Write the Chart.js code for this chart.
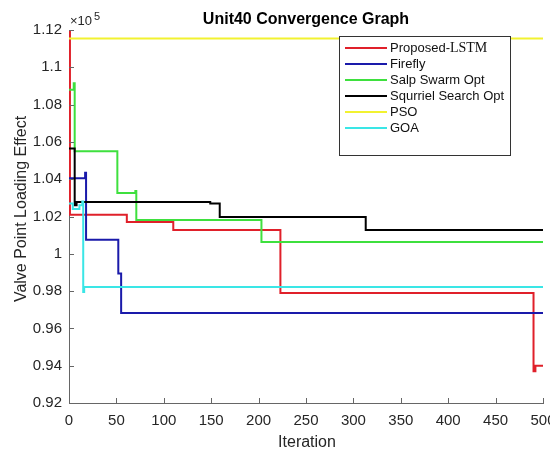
<!DOCTYPE html>
<html>
<head>
<meta charset="utf-8">
<script src="https://cdn.jsdelivr.net/npm/chart.js@4.4.0/dist/chart.umd.min.js"></script>
<style>
html, body { margin: 0; padding: 0; background: #fff; }
#wrap { width: 550px; height: 450px; }
</style>
</head>
<body>
<div id="wrap"><canvas id="chart" width="550" height="450"></canvas></div>
<script>
// --- DATA ---
const seriesNames = ['Proposed-LSTM', 'Firefly', 'Salp Swarm Opt', 'Squrriel Search Opt', 'PSO', 'GOA'];
const seriesColors = ['#e0202a', '#1a1aaa', '#3ee03e', '#000000', '#f2f230', '#3ae6e6'];

// iteration where each level starts, and the level (held until the next point)
const lstmIter = [0, 1, 61, 110, 223, 490, 492, 500];
const lstmVal  = [112000, 102100, 101700, 101280, 97900, 93700, 94000, 94000];

const fireflyIter = [0, 17, 18, 52, 55, 500];
const fireflyVal  = [104050, 104350, 100750, 98950, 96830, 96830];

const salpIter = [0, 5, 6, 51, 70, 71, 203, 500];
const salpVal  = [108800, 109150, 105500, 103260, 103370, 101810, 100630, 100630];

const squirrelIter = [0, 6, 8, 149, 159, 313, 500];
const squirrelVal  = [105650, 102600, 102780, 102700, 101970, 101280, 101280];

const psoIter = [0, 500];
const psoVal  = [111540, 111540];

const goaIter = [0, 4, 11, 14, 15, 16, 500];
const goaVal  = [102700, 102400, 102600, 102800, 97950, 98220, 98220];

const xTicks = [0, 50, 100, 150, 200, 250, 300, 350, 400, 450, 500];
const yTicks = [92000, 94000, 96000, 98000, 100000, 102000, 104000, 106000, 108000, 110000, 112000];
const yTickLabels = ['0.92', '0.94', '0.96', '0.98', '1', '1.02', '1.04', '1.06', '1.08', '1.1', '1.12'];

const FONT = "'Liberation Sans', Arial, sans-serif";
const AXIS = '#666666';
const TEXT = '#262626';

function pts(xs, ys) {
    return xs.map((x, i) => ({ x: x, y: ys[i] }));
}

const allIters = [lstmIter, fireflyIter, salpIter, squirrelIter, psoIter, goaIter];
const allVals = [lstmVal, fireflyVal, salpVal, squirrelVal, psoVal, goaVal];

const datasets = seriesNames.map((name, i) => ({
    label: name,
    data: pts(allIters[i], allVals[i]),
    borderColor: seriesColors[i],
    borderWidth: 2,
    pointRadius: 0,
    stepped: true,
    fill: false,
    order: seriesNames.length - i // later series on top, like matlab
}));

// inward ticks, labels, title and legend box
const decor = {
    id: 'decor',
    afterDraw(chart) {
        const { ctx, chartArea: a, scales: { x, y } } = chart;
        ctx.save();
        ctx.strokeStyle = AXIS;
        ctx.lineWidth = 1;
        ctx.beginPath();
        x.ticks.forEach(t => {
            const px = Math.round(x.getPixelForValue(t.value)) + 0.5;
            ctx.moveTo(px, a.bottom);
            ctx.lineTo(px, a.bottom - 5);
        });
        y.ticks.forEach(t => {
            const py = Math.round(y.getPixelForValue(t.value)) + 0.5;
            ctx.moveTo(a.left, py);
            ctx.lineTo(a.left + 5, py);
        });
        ctx.stroke();

        // title
        ctx.fillStyle = '#000';
        ctx.font = 'bold 16px ' + FONT;
        ctx.textAlign = 'center';
        ctx.textBaseline = 'alphabetic';
        ctx.fillText('Unit40 Convergence Graph', 306, 24);

        // axis titles
        ctx.fillStyle = TEXT;
        ctx.font = '16px ' + FONT;
        ctx.fillText('Iteration', 307, 447);
        ctx.save();
        ctx.translate(26, 209);
        ctx.rotate(-Math.PI / 2);
        ctx.fillText('Valve Point Loading Effect', 0, 0);
        ctx.restore();

        // exponent
        ctx.textAlign = 'left';
        ctx.font = '13px ' + FONT;
        ctx.fillText('\u00d710', 70, 25);
        ctx.font = '11px ' + FONT;
        ctx.fillText('5', 94, 20);

        // legend
        const bx = 339.5, by = 36.5, bw = 171, bh = 119;
        ctx.fillStyle = '#fff';
        ctx.fillRect(bx, by, bw, bh);
        ctx.strokeStyle = '#333';
        ctx.strokeRect(bx, by, bw, bh);
        ctx.textBaseline = 'middle';
        chart.data.datasets.forEach((ds, i) => {
            const ry = 48 + i * 16;
            ctx.strokeStyle = ds.borderColor;
            ctx.lineWidth = 2;
            ctx.beginPath();
            ctx.moveTo(345, ry);
            ctx.lineTo(387, ry);
            ctx.stroke();
            ctx.fillStyle = '#111';
            let label = ds.label;
            let tail = '';
            if (label.endsWith('LSTM')) { tail = 'LSTM'; label = label.slice(0, -4); }
            ctx.font = '13px ' + FONT;
            ctx.fillText(label, 390, ry);
            if (tail) {
                const w = ctx.measureText(label).width;
                ctx.font = "14px 'Liberation Serif', 'Times New Roman', serif";
                ctx.fillText(tail, 390 + w, ry);
            }
        });
        ctx.restore();
    }
};

new Chart(document.getElementById('chart'), {
    type: 'line',
    data: { datasets: datasets },
    options: {
        responsive: false,
        animation: false,
        layout: { padding: { top: 30, right: 7, left: 0, bottom: 0 } },
        plugins: { legend: { display: false }, tooltip: { enabled: false }, title: { display: false } },
        scales: {
            x: {
                type: 'linear',
                min: 0,
                max: 500,
                afterBuildTicks: s => { s.ticks = xTicks.map(v => ({ value: v })); },
                afterFit: s => { s.height = 47; s.paddingLeft = 0; s.paddingRight = 0; },
                grid: { display: false, drawTicks: false },
                border: { display: true, color: AXIS, width: 1 },
                ticks: { color: TEXT, font: { family: FONT, size: 15 }, padding: 9, maxRotation: 0, autoSkip: false }
            },
            y: {
                type: 'linear',
                min: 92000,
                max: 112000,
                afterBuildTicks: s => { s.ticks = yTicks.map(v => ({ value: v })); },
                afterFit: s => { s.width = 69; s.paddingTop = 0; s.paddingBottom = 0; },
                grid: { display: false, drawTicks: false },
                border: { display: true, color: AXIS, width: 1 },
                ticks: {
                    color: TEXT,
                    font: { family: FONT, size: 15 },
                    padding: 7,
                    autoSkip: false,
                    callback: (v, i) => yTickLabels[i]
                }
            }
        }
    },
    plugins: [decor]
});
</script>
</body>
</html>
